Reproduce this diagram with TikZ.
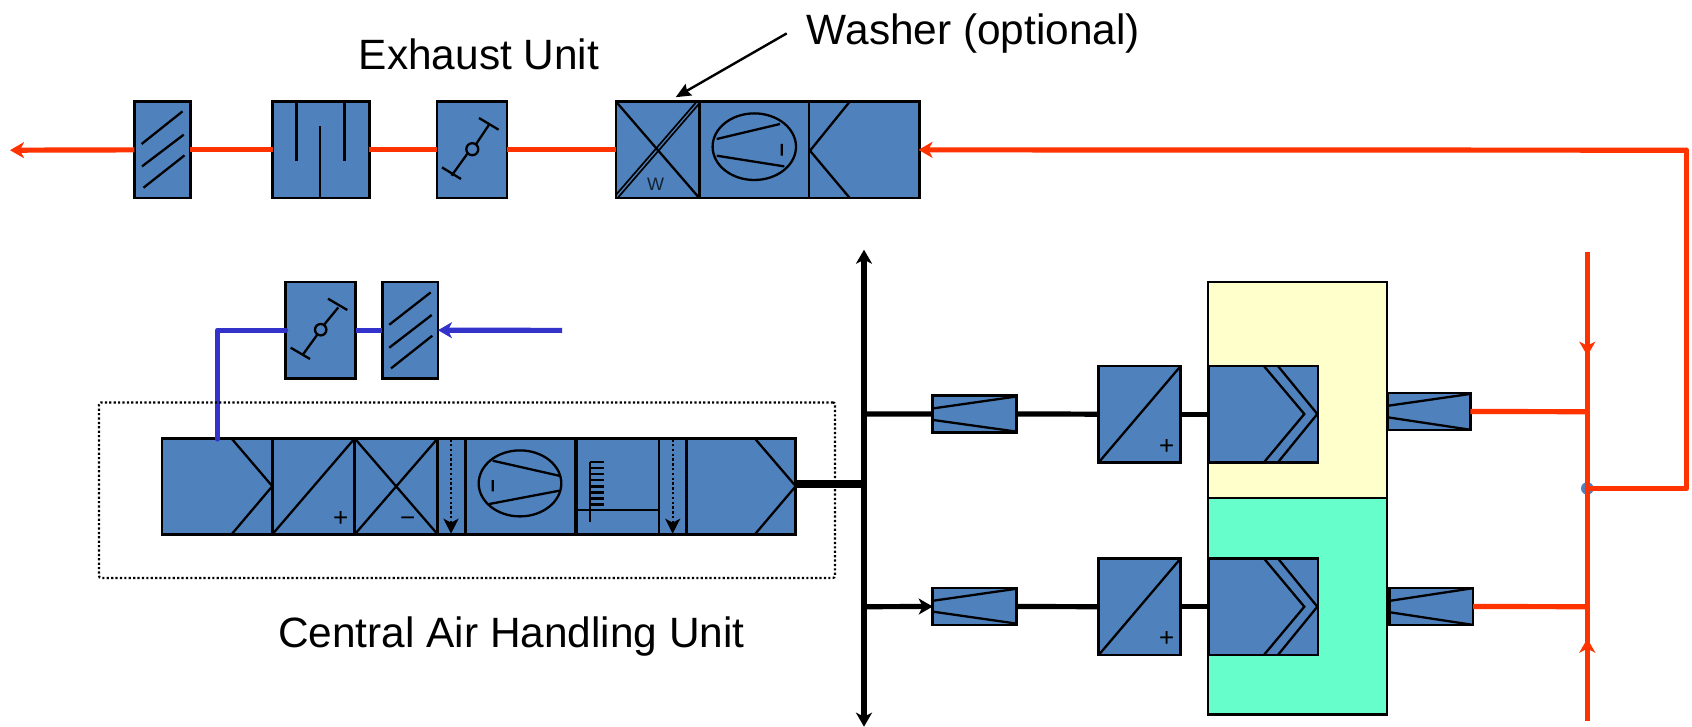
\documentclass[tikz,border=0pt]{standalone}
\usepackage{fontspec}
\setmainfont{Liberation Sans}
\usetikzlibrary{arrows.meta}
\definecolor{unitblue}{HTML}{4F81BD}
\definecolor{hotred}{HTML}{FF3300}
\definecolor{coldblue}{HTML}{3333CC}
\definecolor{paleyellow}{HTML}{FFFFCC}
\definecolor{paleaqua}{HTML}{66FFCC}
\tikzset{
  unit/.style={draw=black,fill=unitblue,line width=1.3pt,inner sep=0pt,outer sep=0pt},
  zone/.style={draw=black,line width=1.1pt,inner sep=0pt,outer sep=0pt},
  glyph/.style={draw=black,line width=1.15pt},
  hotline/.style={draw=hotred,line width=2.6pt,line join=round},
  coldline/.style={draw=coldblue,line width=2.6pt,line join=round},
  busline/.style={draw=black,line width=2.6pt},
  hothead/.style={-{Stealth[length=7pt,width=8pt,inset=2pt]}},
  blackhead/.style={{Stealth[length=7pt,width=8pt,inset=2pt]}-{Stealth[length=7pt,width=8pt,inset=2pt]}},
  label/.style={font=\fontsize{21.2pt}{25pt}\selectfont,inner sep=0pt},
  sign/.style={font=\fontsize{13pt}{14pt}\selectfont,inner sep=0pt},
  dotarrow/.style={draw=black,line width=1.2pt,dash pattern=on 1.2pt off 1.2pt,-{Stealth[length=7.5pt,width=7.5pt,inset=2pt]}}
}
% name, x1, y1, x2, y2 (pixels)
\newcommand{\ubox}[6][unit]{%
  \pgfmathsetmacro{\wA}{(#5-#3)*0.5}\pgfmathsetmacro{\hA}{(#6-#4)*0.5}%
  \pgfmathsetmacro{\cxA}{(#3+#5)/2}\pgfmathsetmacro{\cyA}{(#4+#6)/2}%
  \node[#1,minimum width=\wA pt,minimum height=\hA pt] (#2) at (\cxA,\cyA) {};}
\begin{document}
\begin{tikzpicture}[x=0.5pt,y=-0.5pt]
\useasboundingbox (0,-0.7) rectangle (1692,726.3);
% zones
\ubox[zone,fill=paleyellow]{zoneA}{1208.3}{281.3}{1387.3}{497.3}
\ubox[zone,fill=paleaqua]{zoneB}{1208.3}{497.3}{1387.3}{713.7}
% exhaust row
\ubox{exFilter}{134.3}{101}{190.2}{197.3}
\ubox{exSilencer}{272.5}{101}{369.3}{197.3}
\ubox{exDamper}{437}{101}{507}{197.3}
\ubox{exWasher}{616}{101}{699.3}{197.3}
\ubox{exFan}{699.3}{101}{809}{197.3}
\ubox{exPlenum}{809}{101}{919.3}{197.3}
\draw[glyph] (141.6,143.3)--(182.5,110.7) (142,165.7)--(183.7,134) (143.5,187)--(184.5,154.7);
\draw[glyph] (296.6,101)--(296.6,160.7) (320.3,125.7)--(320.3,197.3) (344.4,101)--(344.4,160.7);
\draw[glyph] (451.6,175)--(467.7,152.5) (476,143.5)--(489,124) (442,166.7)--(461,178.3) (479,117.3)--(498.6,129);
\draw[glyph] (472.3,148.5) circle[radius=6];
\draw[glyph] (616.5,101.5)--(699,197);
\draw[draw=black,line width=0.85pt] (616,194.1)--(697.6,99.9) (617.9,197)--(699.5,102.5);
\node[inner sep=0pt,text=black!75!unitblue,font=\fontsize{9pt}{10pt}\selectfont] (washerW) at (655.7,184) {W};
\draw[glyph] (754.3,146) ellipse[x radius=41.7,y radius=33.3];
\draw[glyph] (716.7,138.3)--(780,123.3) (716.7,155)--(784.3,165.7) (781.7,143.3)--(781.7,155);
\draw[glyph] (849.3,101.5)--(810,150)--(849.3,196.8);
% air handling unit
\ubox{ahuMix}{162}{437.7}{272.3}{533.7}
\ubox{ahuHeat}{272.3}{437.7}{354.7}{533.7}
\ubox{ahuCool}{354.7}{437.7}{437.7}{533.7}
\ubox{ahuDrainA}{437.7}{437.7}{465.5}{533.7}
\ubox{ahuFan}{465.5}{437.7}{575.7}{533.7}
\ubox{ahuHumid}{575.7}{437.7}{659}{533.7}
\ubox{ahuDrainB}{659}{437.7}{686.3}{533.7}
\ubox{ahuOut}{686.3}{437.7}{795.7}{533.7}
\draw[glyph] (231.7,438)--(272.3,485.5)--(231.7,533.5);
\draw[glyph] (272.3,533.7)--(354.7,437.7);
\node[sign] (ahuPlus) at (340.7,518.2) {+};
\draw[glyph] (354.7,437.7)--(437.7,533.7) (354.7,533.7)--(437.7,437.7);
\node[sign] (ahuMinus) at (407.7,521) {−};
\draw[dotarrow] (451,438.5)--(451,533);
\draw[glyph] (520,482.7) ellipse[x radius=41.3,y radius=33];
\draw[glyph] (492.7,460)--(559,475) (489.3,503.3)--(559.3,490) (492.7,479.3)--(492.7,490.7);
\draw[line width=2pt] (575.7,437.7)--(575.7,533.7);
\draw[glyph] (575.7,509.3)--(659,509.3) (590.3,461.3)--(590.3,521.7);
\foreach \ty in {461.3,467.3,473.3,479.3,485.7,491.7,497.7,503.7}{\draw[glyph] (590.3,\ty)--(603.7,\ty);}
\draw[dotarrow] (672.7,438.5)--(672.7,533);
\draw[glyph] (755,438)--(795.7,485.5)--(755,533.5);
% outdoor air
\ubox{inDamper}{285.7}{281.3}{355.7}{377.7}
\ubox{inFilter}{382.3}{281.3}{438}{377.7}
\draw[glyph] (303.3,353.3)--(316.9,334.5) (324.5,323.5)--(338.3,306.7) (290.7,347)--(310,358.3) (328,298)--(347.3,309.3);
\draw[glyph] (320.7,329) circle[radius=5.7];
\draw[glyph] (389.3,324)--(430.7,291.7) (389.3,347)--(431.7,314.3) (391,367.7)--(432.3,335);
% zone branches
\ubox{tuA}{932.7}{394.7}{1016.3}{431.7}
\ubox{reheatA}{1098.7}{365.3}{1180.7}{461.7}
\ubox{diffA}{1208.3}{365.3}{1318}{461.7}
\ubox{retA}{1387.3}{392.3}{1470.3}{429.3}
\ubox{tuB}{932.7}{587.3}{1016.3}{624.3}
\ubox{reheatB}{1098.7}{557.7}{1180.7}{654.3}
\ubox{diffB}{1208.3}{557.7}{1318}{654.3}
\ubox{retB}{1389.3}{587.3}{1473}{624.3}
\draw[glyph] (933.3,407.7)--(1015,396) (933.3,419.3)--(1015,430.7);
\draw[glyph] (1098.7,461.7)--(1180.7,365.3);
\node[sign] (plusA) at (1166.7,446.2) {+};
\draw[glyph] (1264.3,365.8)--(1304.3,413.3)--(1264.3,461.2) (1278.3,365.8)--(1317.3,413.3)--(1278.3,461.2);
\draw[glyph] (1388.3,405)--(1470,393.3) (1388.3,416.7)--(1470,429);
\draw[glyph] (933.3,600)--(1015,588.3) (933.3,611)--(1015,622.7);
\draw[glyph] (1098.7,654.3)--(1180.7,557.7);
\node[sign] (plusB) at (1166.7,638.5) {+};
\draw[glyph] (1264.3,558.2)--(1304.3,606)--(1264.3,653.8) (1278.3,558.2)--(1317.3,606)--(1278.3,653.8);
\draw[glyph] (1390.7,600)--(1471.7,587.7) (1390.7,611.7)--(1471.7,624);
% free ends and junctions
\coordinate (exOut) at (10,149.5);
\coordinate (busTop) at (864,249);
\coordinate (busBottom) at (864,726);
\coordinate (busMain) at (864,483.3);
\coordinate (busA) at (864,413.3);
\coordinate (busB) at (864,606);
\coordinate (ahuTip) at (795.7,483.3);
\coordinate (inStart) at (562,329.7);
\coordinate (blueDrop) at (217.3,438.3);
\coordinate (rbTop) at (1587.3,251.7);
\coordinate (rbBottom) at (1587.3,720);
\coordinate (rbDownTip) at (1587.3,355);
\coordinate (rbUpTip) at (1587.3,638);
\coordinate (rbJoin) at (1587.3,487.7);
\coordinate (rbA) at (1587.3,411);
\coordinate (rbB) at (1587.3,606);
\coordinate (rbEast) at (1686.7,487.7);
\coordinate (rbCorner) at (1686.7,149.5);
\coordinate (washerFrom) at (786.7,32.7);
\coordinate (washerTip) at (675.7,96.5);
% exhaust air connectors
\draw[hotline,hothead] (exFilter.west)--(exOut);
\draw[hotline] (exSilencer.west)--(exFilter.east);
\draw[hotline] (exDamper.west)--(exSilencer.east);
\draw[hotline] (exWasher.west)--(exDamper.east);
\fill[unitblue] (rbJoin) circle[radius=6.3];
\draw[hotline] (rbTop)--(rbBottom);
\draw[hotline,hothead] (rbTop)--(rbDownTip);
\draw[hotline,hothead] (rbBottom)--(rbUpTip);
\draw[hotline,line cap=round] (rbJoin)--(rbEast)--(rbCorner);
\draw[hotline,hothead,shorten >=-0.4pt] (rbCorner)--(exPlenum.east);
\draw[hotline] (retA.east)--(rbA);
\draw[hotline] (retB.east)--(rbB);
% supply air connectors
\draw[coldline,hothead] (inStart)--(inFilter.east);
\draw[coldline] (inFilter.west)--(inDamper.east);
\draw[coldline,line cap=round] (inDamper.west)-|(blueDrop);
\draw[busline,blackhead] (busTop)--(busBottom);
\draw[draw=black,line width=3.8pt] (ahuTip)--(busMain);
\draw[busline] (busA)--(tuA.west);
\draw[busline,hothead] (busB)--(tuB.west);
\draw[busline] (tuA.east)--(reheatA.west);
\draw[busline] (reheatA.east)--(diffA.west);
\draw[busline] (tuB.east)--(reheatB.west);
\draw[busline] (reheatB.east)--(diffB.west);
% outline of the central unit
\node[draw=black,line width=1.1pt,dash pattern=on 1.1pt off 1.1pt,rounded corners=1pt,inner sep=0pt,minimum width=368pt,minimum height=87.7pt] (ahuFrame) at (467,489.5) {};
% labels
\node[label] (lblExhaust) at (479,54) {Exhaust Unit};
\node[label] (lblWasher) at (973.5,33) {Washer (optional)};
\node[label] (lblAHU) at (511.5,636) {Central Air Handling Unit};
\draw[line width=1.2pt,-{Stealth[length=7.5pt,width=6.5pt,inset=1pt]}] (washerFrom)--(washerTip);
\end{tikzpicture}
\end{document}
